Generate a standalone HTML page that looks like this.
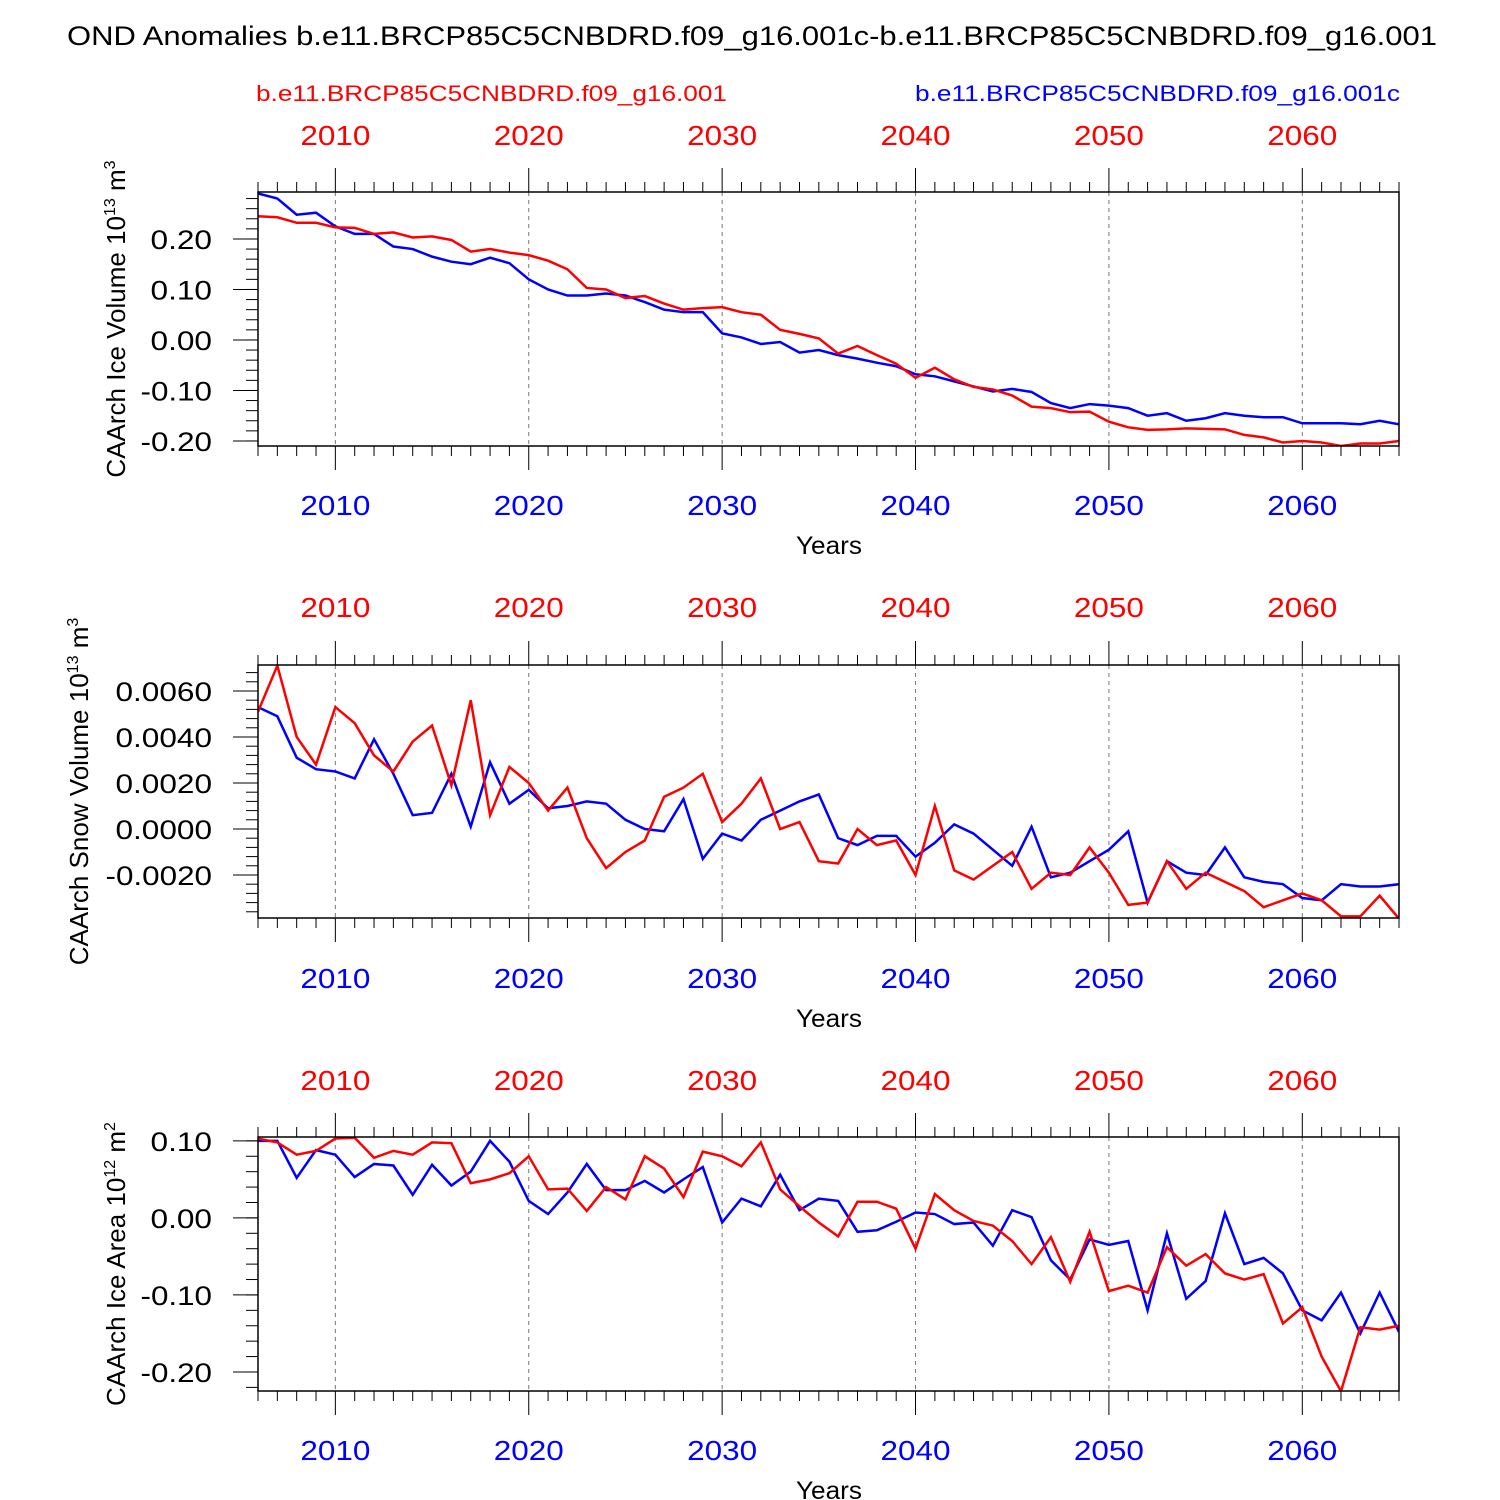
<!DOCTYPE html>
<html><head><meta charset="utf-8"><style>body{margin:0;background:#fff}svg{display:block;font-family:"Liberation Sans",sans-serif}</style></head>
<body>
<svg id="chart" width="1500" height="1500" xmlns="http://www.w3.org/2000/svg">
<text x="67" y="45" font-size="27" textLength="1370" lengthAdjust="spacingAndGlyphs">OND Anomalies b.e11.BRCP85C5CNBDRD.f09_g16.001c-b.e11.BRCP85C5CNBDRD.f09_g16.001</text>
<text x="256" y="101" font-size="22" fill="#f00" textLength="471" lengthAdjust="spacingAndGlyphs">b.e11.BRCP85C5CNBDRD.f09_g16.001</text>
<text x="915" y="101" font-size="22" fill="#00f" textLength="485" lengthAdjust="spacingAndGlyphs">b.e11.BRCP85C5CNBDRD.f09_g16.001c</text>
</svg>
<script>
const years=[];for(let y=2006;y<=2065;y++)years.push(y);
const decadeTicks=[2010,2020,2030,2040,2050,2060];
const iceVolBlue=[0.29,0.28,0.248,0.252,0.225,0.21,0.21,0.185,0.18,0.165,0.155,0.15,0.163,0.152,0.12,0.10,0.088,0.088,0.092,0.088,0.075,0.06,0.055,0.055,0.013,0.005,-0.008,-0.004,-0.025,-0.02,-0.03,-0.037,-0.045,-0.052,-0.068,-0.072,-0.082,-0.092,-0.102,-0.097,-0.103,-0.125,-0.135,-0.127,-0.13,-0.135,-0.15,-0.145,-0.16,-0.155,-0.145,-0.15,-0.153,-0.153,-0.165,-0.165,-0.165,-0.167,-0.16,-0.167];
const iceVolRed=[0.245,0.243,0.232,0.232,0.223,0.222,0.21,0.213,0.203,0.205,0.198,0.175,0.18,0.173,0.168,0.157,0.14,0.103,0.1,0.083,0.087,0.072,0.06,0.063,0.065,0.055,0.05,0.02,0.012,0.003,-0.027,-0.012,-0.03,-0.047,-0.075,-0.055,-0.078,-0.093,-0.098,-0.11,-0.132,-0.135,-0.143,-0.142,-0.162,-0.173,-0.178,-0.177,-0.175,-0.176,-0.177,-0.188,-0.193,-0.203,-0.2,-0.203,-0.21,-0.205,-0.205,-0.2];
const snowBlue=[5.3,4.9,3.1,2.6,2.5,2.2,3.9,2.4,0.6,0.7,2.4,0.1,2.9,1.1,1.7,0.9,1.0,1.2,1.1,0.4,0.0,-0.1,1.3,-1.3,-0.2,-0.5,0.4,0.8,1.2,1.5,-0.4,-0.7,-0.3,-0.3,-1.2,-0.6,0.2,-0.2,-0.9,-1.6,0.1,-2.1,-1.9,-1.4,-0.9,-0.1,-3.2,-1.4,-1.9,-2.0,-0.8,-2.1,-2.3,-2.4,-3.0,-3.1,-2.4,-2.5,-2.5,-2.4].map(v=>v/1000);
const snowRed=[5.1,7.1,4.0,2.8,5.3,4.6,3.2,2.5,3.8,4.5,1.9,5.6,0.6,2.7,2.0,0.8,1.8,-0.4,-1.7,-1.0,-0.5,1.4,1.8,2.4,0.3,1.1,2.2,0.0,0.3,-1.4,-1.5,0.0,-0.7,-0.5,-2.0,1.0,-1.8,-2.2,-1.6,-1.0,-2.6,-1.9,-2.0,-0.8,-1.9,-3.3,-3.2,-1.4,-2.6,-1.9,-2.3,-2.7,-3.4,-3.1,-2.8,-3.1,-3.8,-3.8,-2.9,-3.9].map(v=>v/1000);
const areaBlue=[0.10,0.10,0.052,0.088,0.082,0.053,0.07,0.068,0.03,0.069,0.042,0.06,0.10,0.073,0.022,0.005,0.033,0.07,0.036,0.036,0.048,0.033,0.05,0.066,-0.006,0.025,0.015,0.056,0.01,0.025,0.022,-0.018,-0.016,-0.005,0.007,0.005,-0.008,-0.006,-0.036,0.01,0.001,-0.055,-0.08,-0.028,-0.035,-0.03,-0.12,-0.02,-0.105,-0.082,0.006,-0.06,-0.052,-0.072,-0.12,-0.133,-0.097,-0.15,-0.097,-0.148];
const areaRed=[0.103,0.098,0.082,0.087,0.103,0.104,0.078,0.087,0.082,0.098,0.097,0.045,0.05,0.058,0.08,0.037,0.038,0.009,0.04,0.024,0.08,0.064,0.027,0.086,0.08,0.067,0.098,0.037,0.015,-0.006,-0.024,0.021,0.021,0.012,-0.04,0.031,0.01,-0.004,-0.01,-0.03,-0.06,-0.025,-0.083,-0.018,-0.095,-0.088,-0.097,-0.038,-0.062,-0.047,-0.072,-0.08,-0.073,-0.137,-0.116,-0.18,-0.225,-0.142,-0.145,-0.14];
const iceVolTicks=[0.2,0.1,0,-0.1,-0.2],iceVolLabels=["0.20","0.10","0.00","-0.10","-0.20"];
const snowTicks=[0.006,0.004,0.002,0,-0.002],snowLabels=["0.0060","0.0040","0.0020","0.0000","-0.0020"];
const areaTicks=[0.1,0,-0.1,-0.2],areaLabels=["0.10","0.00","-0.10","-0.20"];
const NS="http://www.w3.org/2000/svg",svg=document.getElementById('chart');
function el(t,a,p){const e=document.createElementNS(NS,t);for(const k in a)e.setAttribute(k,a[k]);(p||svg).appendChild(e);return e;}
function lw(s){let w=0;for(const c of s)w+=c=='.'?9:c=='-'?10:17.5;return w;}
const X0=258,X1=1399,xs=y=>X0+(y-2006)*(X1-X0)/59;
const panels=[
{name:'ice-volume',top:192,bot:446,ymin:-0.21,ymax:0.293,ticks:iceVolTicks,labels:iceVolLabels,minor:0.02,blue:iceVolBlue,red:iceVolRed,title:['CAArch Ice Volume 10','13',' m','3'],tx:125,lab1:135,lab2:505,yrs:545},
{name:'snow-volume',top:665,bot:918,ymin:-0.00387,ymax:0.00713,ticks:snowTicks,labels:snowLabels,minor:0.0004,blue:snowBlue,red:snowRed,title:['CAArch Snow Volume 10','13',' m','3'],tx:88,lab1:607,lab2:978,yrs:1018},
{name:'ice-area',top:1137,bot:1391,ymin:-0.2247,ymax:0.105,ticks:areaTicks,labels:areaLabels,minor:0.02,blue:areaBlue,red:areaRed,title:['CAArch Ice Area 10','12',' m','2'],tx:125,lab1:1080,lab2:1450,yrs:1490}];
panels.forEach(p=>{
 const g=el('g',{});
 
 
 const ys=v=>p.bot-(v-p.ymin)*(p.bot-p.top)/(p.ymax-p.ymin);
 decadeTicks.forEach((d,i)=>{
  const gl=el('line',{x1:xs(d),x2:xs(d),y1:p.top,y2:p.bot,stroke:'#777','stroke-width':1,'stroke-dasharray':'4,4'},g);
  
  const t1=el('text',{x:xs(d)-35,y:p.lab1+10,'font-size':28,fill:'#f00',textLength:70,lengthAdjust:'spacingAndGlyphs'},g);t1.textContent=d;
  
  const t2=el('text',{x:xs(d)-35,y:p.lab2+10,'font-size':28,fill:'#00f',textLength:70,lengthAdjust:'spacingAndGlyphs'},g);t2.textContent=d;
  
 });
 years.forEach(y=>{const maj=y%10==0,len=maj?24:10;
  el('line',{x1:xs(y),x2:xs(y),y1:p.bot,y2:p.bot+len,stroke:'#000'},g);
  el('line',{x1:xs(y),x2:xs(y),y1:p.top,y2:p.top-len,stroke:'#000'},g);});
 for(let v=Math.ceil(p.ymin/p.minor)*p.minor;v<=p.ymax;v+=p.minor){const yy=ys(v);if(yy<p.top||yy>p.bot)continue;el('line',{x1:X0-12,x2:X0,y1:yy,y2:yy,stroke:'#000'},g);}
 p.ticks.forEach((v,i)=>{el('line',{x1:X0-25,x2:X0,y1:ys(v),y2:ys(v),stroke:'#000'},g);
  const L=p.labels[i],w=lw(L);
  const t=el('text',{x:212-w,y:ys(v)+10,'font-size':27,textLength:w,lengthAdjust:'spacingAndGlyphs'},g);t.textContent=L;
  });
 const cp=el('clipPath',{id:'c'+p.name},g);el('rect',{x:X0,y:p.top,width:X1-X0,height:p.bot-p.top},cp);
 const lg=el('g',{'clip-path':'url(#c'+p.name+')'},g);
 const mk2=(arr,c,n)=>{const pl=el('polyline',{points:arr.map((v,i)=>xs(years[i])+','+ys(v)).join(' '),fill:'none',stroke:c,'stroke-width':2.5},lg);
  };
 mk2(p.blue,'#00f','blue-series-line');mk2(p.red,'#f00','red-series-line');
 const fr=el('rect',{x:X0,y:p.top,width:X1-X0,height:p.bot-p.top,fill:'none',stroke:'#000','stroke-width':1.5},g);
 
 const yt=el('text',{x:796,y:p.yrs+9,'font-size':25,textLength:66,lengthAdjust:'spacingAndGlyphs'},g);yt.textContent='Years';
 
 const cy=(p.top+p.bot)/2;
 const tt=el('text',{transform:`translate(${p.tx},${cy}) rotate(-90)`,'font-size':26,'text-anchor':'middle'},g);
 
 p.title.forEach((s,i)=>{const ts=el('tspan',i%2?{'font-size':16,dy:-10}:{dy:i?10:0},tt);ts.textContent=s;});
});
</script>
</body></html>
